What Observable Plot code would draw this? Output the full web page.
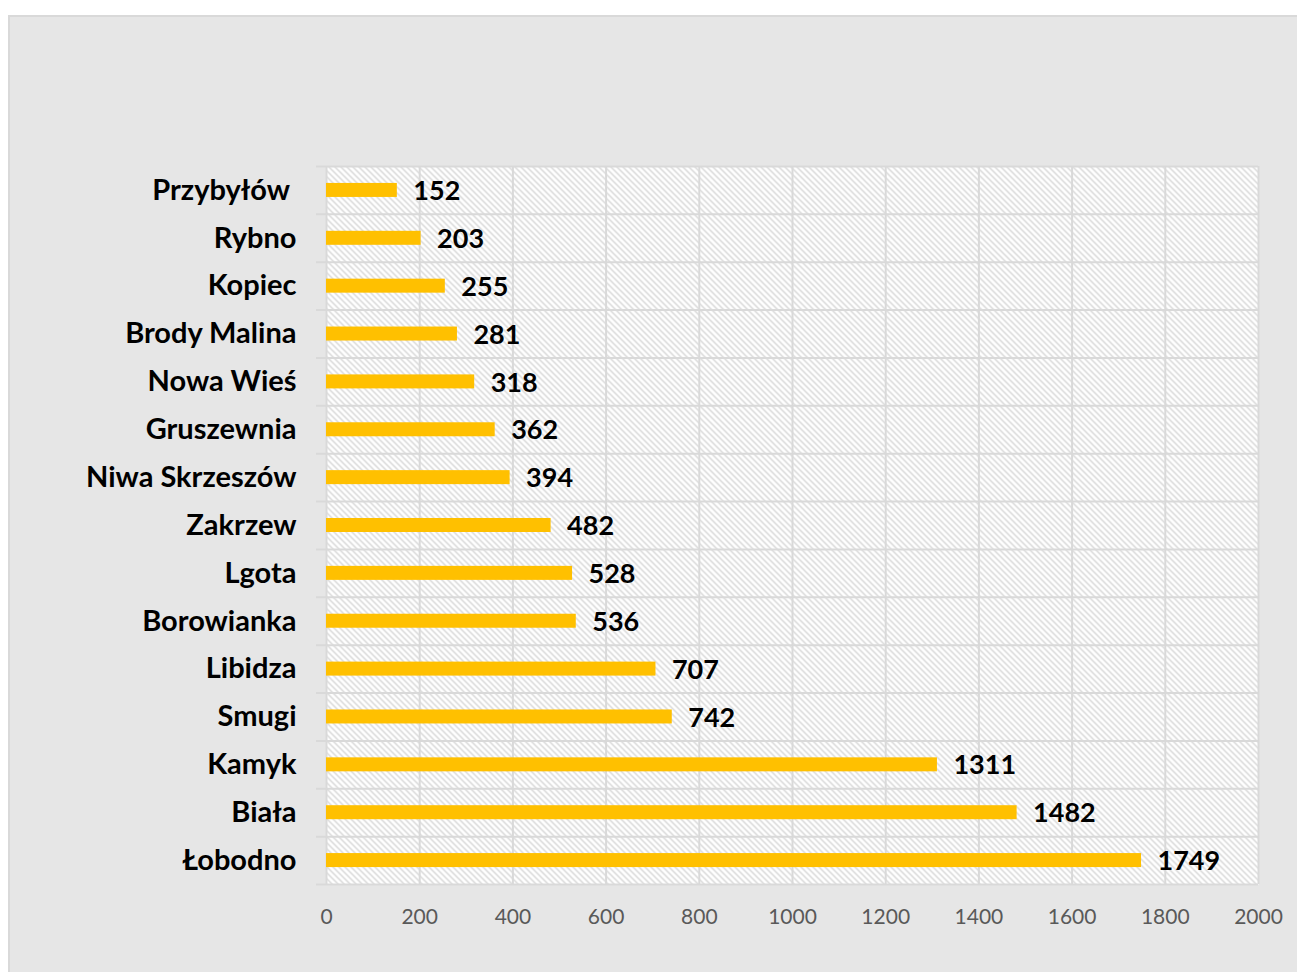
<!DOCTYPE html>
<html>
<head>
<meta charset="utf-8">
<script src="https://cdn.jsdelivr.net/npm/d3@7"></script>
<script src="https://cdn.jsdelivr.net/npm/@observablehq/plot@0.6"></script>
<style>
  html, body { margin: 0; padding: 0; background: #ffffff; overflow: hidden; width: 1297px; height: 972px; }
  #panel { position: absolute; left: 8px; top: 15px; width: 1400px; height: 1000px; background: #e6e6e6; border: 2px solid #d9d9d9; box-sizing: border-box; }
  #chart { position: absolute; left: 0; top: 0; }
  #chart svg text { white-space: pre; }
</style>
</head>
<body>
<div id="panel"></div>
<div id="chart"></div>
<script>
const categories = ["Przybyłów ", "Rybno", "Kopiec", "Brody Malina", "Nowa Wieś", "Gruszewnia", "Niwa Skrzeszów", "Zakrzew", "Lgota", "Borowianka", "Libidza", "Smugi", "Kamyk", "Biała", "Łobodno"];
const values = [152, 203, 255, 281, 318, 362, 394, 482, 528, 536, 707, 742, 1311, 1482, 1749];
const xTicks = [0, 200, 400, 600, 800, 1000, 1200, 1400, 1600, 1800, 2000];

const data = categories.map((c, i) => ({name: c, value: values[i]}));

const W = 1297, H = 972;
const mTop = 166, mBottom = 88, mLeft = 326, mRight = 39;
const bw = (H - mTop - mBottom) / categories.length;

const chart = Plot.plot({
  width: W,
  height: H,
  marginTop: mTop,
  marginBottom: mBottom,
  marginLeft: mLeft,
  marginRight: mRight,
  style: {background: "transparent", fontFamily: "Lato, sans-serif", overflow: "visible"},
  x: {domain: [0, 2000], ticks: xTicks, tickSize: 0, tickPadding: 25, label: null, round: false},
  y: {domain: categories, padding: 0, round: false, tickSize: 0, tickPadding: 30, label: null},
  marks: [
    Plot.frame({fill: "#ffffff", stroke: "none"}),
    Plot.frame({fill: "url(#hatch)", stroke: "none"}),
    Plot.ruleX(xTicks, {stroke: "#d9d9d9", strokeWidth: 2, strokeOpacity: 1}),
    Plot.ruleY(categories, {y: d => d, dy: -bw / 2, insetLeft: -10, stroke: "#d9d9d9", strokeWidth: 2}),
    Plot.ruleY(categories.slice(-1), {y: d => d, dy: bw / 2, insetLeft: -10, stroke: "#d9d9d9", strokeWidth: 2}),
    Plot.barX(data, {x1: 0, x2: "value", y: "name", fill: "#FFC000", insetTop: (bw - 14) / 2, insetBottom: (bw - 14) / 2}),
    Plot.text(data, {x: "value", y: "name", text: d => String(d.value), textAnchor: "start", dx: 16, dy: 1, fontSize: 27, fontWeight: "bold", fill: "#000000"}),
    Plot.axisX({ticks: xTicks, tickFormat: d => String(d), tickSize: 0, tickPadding: 25, fontSize: 21, fill: "#595959", label: null}),
    Plot.axisY({tickSize: 0, tickPadding: 30, fontSize: 29, fontWeight: "bold", fill: "#000000", label: null})
  ]
});

const svg = d3.select(chart);
const defs = svg.insert("defs", ":first-child");
const S = 6;
const pat = defs.append("pattern")
  .attr("id", "hatch")
  .attr("patternUnits", "userSpaceOnUse")
  .attr("width", S)
  .attr("height", S);
pat.append("rect").attr("width", S).attr("height", S).attr("fill", "#ffffff");
pat.append("path")
  .attr("d", `M0,0L${S},${S}M${-S / 2},${S / 2}L${S / 2},${S * 1.5}M${S / 2},${-S / 2}L${S * 1.5},${S / 2}`)
  .attr("stroke", "#d3d3d3").attr("stroke-width", 1.3).attr("fill", "none");

document.getElementById("chart").appendChild(chart);
</script>
</body>
</html>
